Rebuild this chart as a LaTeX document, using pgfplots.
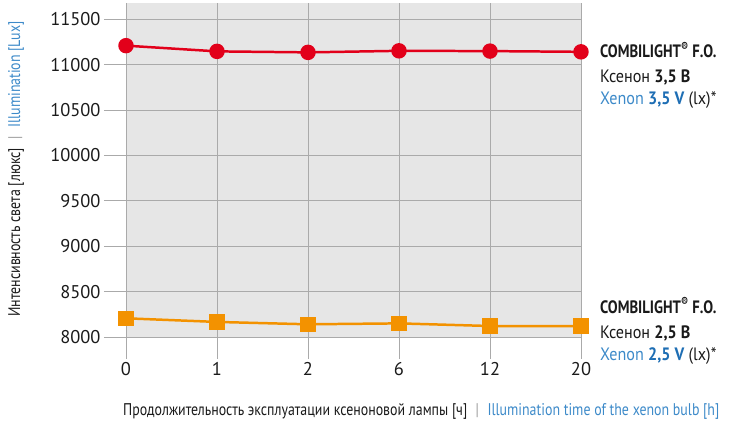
\documentclass[border=0pt]{standalone}
\usepackage{fontspec}
\setmainfont{PT Sans}
\newfontfamily\cond{PT Sans}[FakeStretch=0.82]
\newfontfamily\condb{PT Sans}[FakeStretch=0.9]
\usepackage{pgfplots}
\pgfplotsset{compat=1.18}
\definecolor{cred}{HTML}{E2001A}
\definecolor{corange}{HTML}{F39200}
\definecolor{bg}{HTML}{E6E6E6}
\definecolor{gridc}{HTML}{AAAAAA}
\definecolor{lblue}{HTML}{3D8AC9}
\definecolor{dblue}{HTML}{1E6EB4}
\definecolor{txt}{HTML}{1A1A1A}
\definecolor{sep}{HTML}{999999}
\begin{document}
\begin{tikzpicture}
\useasboundingbox (-126bp,-88bp) rectangle (604bp,337bp);
\begin{axis}[
 at={(0,0)}, anchor=south west, scale only axis,
 width=455bp, height=334bp,
 xmin=0, xmax=5, ymin=8000, ymax=11680,
 axis background/.style={fill=bg},
 axis line style={draw=none},
 xtick={0,...,5}, xticklabels={0,1,2,6,12,20},
 ytick={8000,8500,...,11500},
 scaled y ticks=false,
 xtick pos=bottom, ytick pos=left,
 grid=major, major grid style={gridc, line width=1pt},
 tick style={gridc, line width=1pt},
 tick align=outside, major tick length=22bp,
 ticklabel style={font=\fontsize{18.5}{21}\selectfont, text=txt},
 /pgf/number format/assume math mode=true,
 /pgf/number format/set thousands separator={},
 clip=false,
]
\addplot[cred, line width=2.5pt, mark=*, mark size=6.5pt] coordinates {
 (0,11210) (1,11147) (2,11136) (3,11153) (4,11150) (5,11142)};
\addplot[corange, line width=2.5pt, mark=square*, mark size=6.5pt] coordinates {
 (0,8206) (1,8166) (2,8140) (3,8150) (4,8121) (5,8121)};
\end{axis}
\node[rotate=90, anchor=center, font=\cond\fontsize{17}{19}\selectfont] at (-110bp,168bp)
 {\color{txt}Интенсивность света [люкс]\enspace\color{sep}|\enspace\color{lblue}Illumination [Lux]};
\node[anchor=base west, inner sep=0pt, font=\cond\fontsize{17}{19}\selectfont] at (-3bp,-78bp)
 {\color{txt}Продолжительность эксплуатации ксеноновой лампы [ч]\enspace\color{sep}|\enspace\color{lblue}Illumination time of the xenon bulb [h]};
\begin{scope}[every node/.style={anchor=base west, inner sep=0pt, font=\condb\fontsize{18}{21}\selectfont, text=txt}]
\node[font=\cond\fontsize{18}{21}\selectfont] at (474bp,279bp) {\bfseries COMBILIGHT\textsuperscript{®} F.O.};
\node at (474bp,254bp) {Ксенон \textbf{3,5 В}};
\node at (474bp,232bp) {\color{lblue}Xenon \textcolor{dblue}{\bfseries 3,5 V} \color{txt}(lx)*};
\node[font=\cond\fontsize{18}{21}\selectfont] at (474bp,24bp) {\bfseries COMBILIGHT\textsuperscript{®} F.O.};
\node at (474bp,-1bp) {Ксенон \textbf{2,5 В}};
\node at (474bp,-23bp) {\color{lblue}Xenon \textcolor{dblue}{\bfseries 2,5 V} \color{txt}(lx)*};
\end{scope}
\end{tikzpicture}
\end{document}
